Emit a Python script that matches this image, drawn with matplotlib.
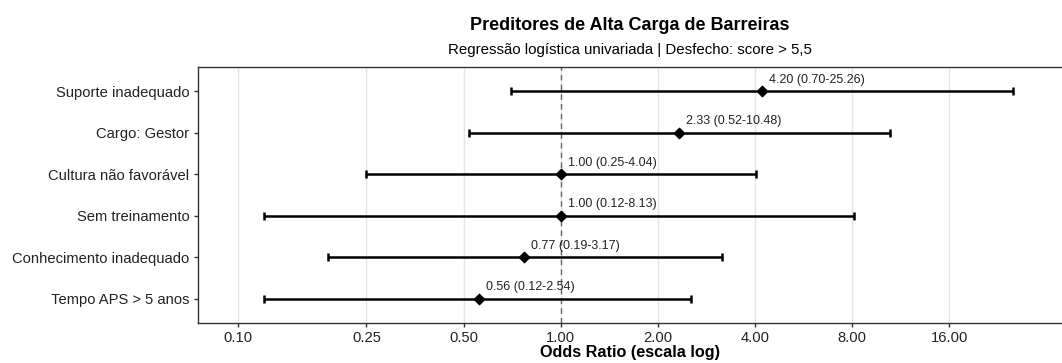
import numpy as np
import matplotlib
matplotlib.use("Agg")
import matplotlib.pyplot as plt

plt.rcParams['font.family'] = ['Liberation Sans', 'DejaVu Sans']

# dados (de baixo para cima)
preditores = ['Tempo APS > 5 anos', 'Conhecimento inadequado', 'Sem treinamento',
              'Cultura não favorável', 'Cargo: Gestor', 'Suporte inadequado']
odds = [0.56, 0.77, 1.00, 1.00, 2.33, 4.20]
ic_inf = [0.12, 0.19, 0.12, 0.25, 0.52, 0.70]
ic_sup = [2.54, 3.17, 8.13, 4.04, 10.48, 25.26]
ticks_x = [0.10, 0.25, 0.50, 1.00, 2.00, 4.00, 8.00, 16.00]

fig = plt.figure(figsize=(10.62, 3.63), dpi=100)
ax = fig.add_axes([198.3/1062, 1 - 322.7/363, 1 - 198.3/1062, (322.7 - 67)/363])

y = np.arange(1, len(preditores) + 1)
odds = np.array(odds)
ic_inf = np.array(ic_inf)
ic_sup = np.array(ic_sup)

ax.axvline(1, color='#666666', linestyle=(0, (4, 3)), linewidth=1.0, zorder=1)
ax.errorbar(odds, y, xerr=[odds - ic_inf, ic_sup - odds], fmt='none',
            ecolor='black', elinewidth=1.8, capsize=3, capthick=1.8, zorder=3)
ax.scatter(odds, y, marker='D', s=28, color='black', zorder=4)

for o, lo, hi, yy in zip(odds, ic_inf, ic_sup, y):
    ax.annotate(f'{o:.2f} ({lo:.2f}-{hi:.2f})', (o, yy), xytext=(5, 4),
                textcoords='offset points', fontsize=9, color='#222222',
                ha='left', va='bottom')

ax.set_xscale('log')
ax.set_xlim(0.0753, 35.8)
ax.set_ylim(0.42, 6.58)
ax.set_xticks(ticks_x)
ax.set_xticklabels([f'{t:.2f}' for t in ticks_x])
ax.xaxis.set_minor_locator(matplotlib.ticker.NullLocator())
ax.set_yticks(y)
ax.set_yticklabels(preditores)
ax.grid(axis='x', color='#e5e5e5', linewidth=1.0, zorder=0)
ax.set_axisbelow(True)
ax.tick_params(axis='both', labelsize=10.6, color='#333333', labelcolor='#222222',
               length=3, width=1)
ax.tick_params(axis='x', pad=3)
for s in ['left', 'bottom', 'top']:
    ax.spines[s].set_color('#333333')
    ax.spines[s].set_linewidth(1.0)
ax.spines['right'].set_visible(False)

ax.set_xlabel('Odds Ratio (escala log)', fontsize=11.7, fontweight='bold', labelpad=0)
fig.text(630/1062, 1 - 25/363, 'Preditores de Alta Carga de Barreiras',
         ha='center', va='center', fontsize=13, fontweight='bold')
fig.text(630/1062, 1 - 50/363, 'Regressão logística univariada | Desfecho: score > 5,5',
         ha='center', va='center', fontsize=10.8)

fig.savefig('out.png', dpi=100)
